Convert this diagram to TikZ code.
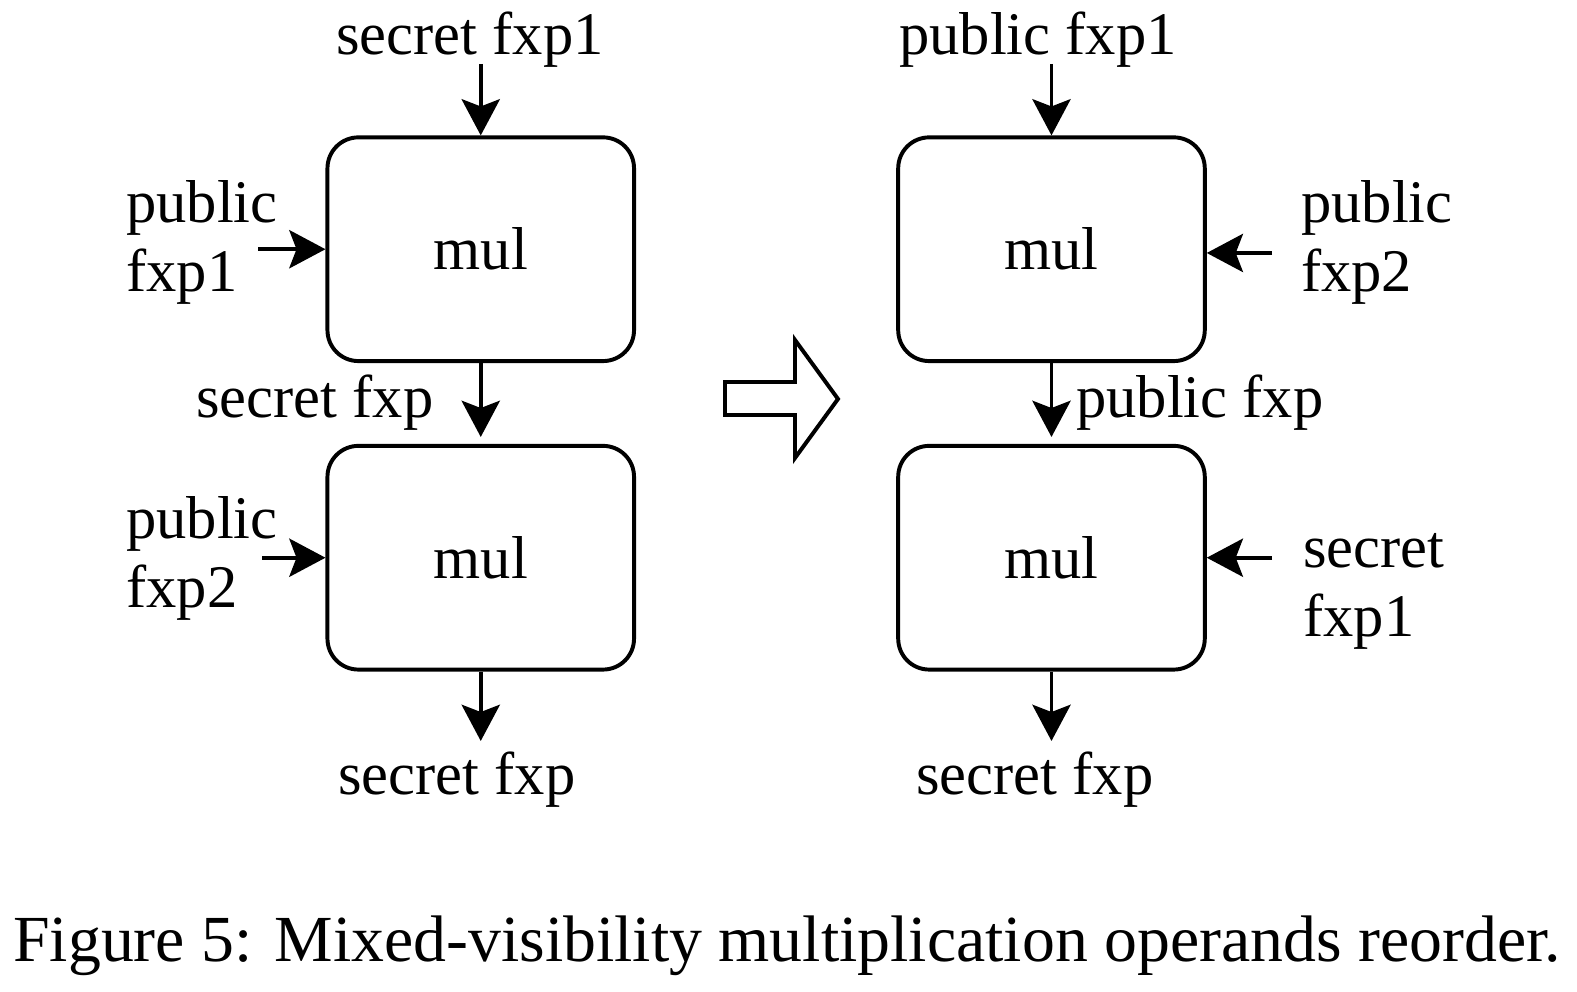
\documentclass[tikz,border=0pt]{standalone}
\usepackage{fontspec}
\setmainfont{Liberation Serif}
\usetikzlibrary{arrows.meta}
\begin{document}
\begin{tikzpicture}[x=0.152pt,y=-0.152pt,
  mulbox/.style={draw,line width=0.6pt,rounded corners=4.7pt,minimum width=46.6pt,minimum height=34pt,inner sep=0pt,font=\fontsize{9.2}{10.6}\selectfont},
  arr/.style={line width=0.6pt,-{Stealth[length=5.5pt,width=5.8pt,inset=1.1pt]}},
  lbl/.style={inner sep=0pt,anchor=base west,align=left,font=\fontsize{9.2}{10.6}\selectfont}]
\useasboundingbox (0,0) rectangle (1577,992);
% boxes
\node[mulbox] (m1) at (480.75,249.25) {mul};
\node[mulbox] (m2) at (480.75,557.75) {mul};
\node[mulbox] (m3) at (1051.5,249.25) {mul};
\node[mulbox] (m4) at (1051.5,557.75) {mul};
% free ends
\coordinate (t1) at (480.75,64);
\coordinate (i2) at (480.75,437);
\coordinate (b1) at (480.75,741);
\coordinate (l1) at (258,249.25);
\coordinate (l2) at (262,557.75);
\coordinate (t3) at (1051.5,64);
\coordinate (i4) at (1051.5,437);
\coordinate (b3) at (1051.5,741);
\coordinate (r1) at (1272,253);
\coordinate (r2) at (1272,557.75);
% connectors
\draw[arr] (t1) -- (m1.north);
\draw[arr] (m1.south) -- (i2);
\draw[arr] (m2.south) -- (b1);
\draw[arr] (l1) -- (m1.west);
\draw[arr] (l2) -- (m2.west);
\draw[arr] (t3) -- (m3.north);
\draw[arr] (m3.south) -- (i4);
\draw[arr] (m4.south) -- (b3);
\draw[arr] (r1) -- (r1 -| m3.east);
\draw[arr] (r2) -- (m4.east);
% labels
\node[lbl] (a1) at (335,55) {secret fxp1};
\node[lbl] (a2) at (125,292) {public\\fxp1};
\node[lbl] (a3) at (195,418) {secret fxp};
\node[lbl] (a4) at (125,608) {public\\fxp2};
\node[lbl] (a5) at (337,795) {secret fxp};
\node[lbl] (c1) at (898,55) {public fxp1};
\node[lbl] (c2) at (1300,292) {public\\fxp2};
\node[lbl] (c3) at (1075,418) {public fxp};
\node[lbl] (c4) at (1302,637) {secret\\fxp1};
\node[lbl] (c5) at (915,795) {secret fxp};
% block arrow
\draw[line width=0.6pt] (725,382) -- (795,382) -- (795,340) -- (838,399) -- (795,458) -- (795,415) -- (725,415) -- cycle;
% caption
\node[inner sep=0pt,anchor=base west,font=\fontsize{10}{12}\selectfont] (cap) at (12,962) {Figure 5: Mixed-visibility multiplication operands reorder.};
\end{tikzpicture}
\end{document}
